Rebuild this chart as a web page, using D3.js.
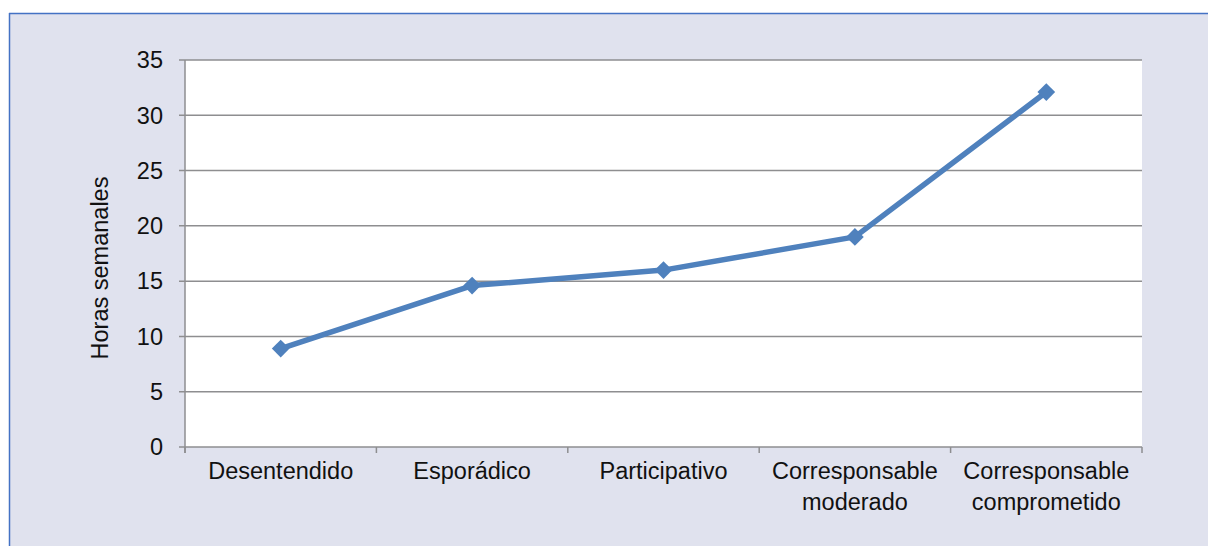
<!DOCTYPE html>
<html>
<head>
<meta charset="utf-8">
<script src="https://cdn.jsdelivr.net/npm/d3@7"></script>
<style>
  body { margin: 0; background: #fff; }
  svg { display: block; }
</style>
</head>
<body>
<svg id="chart"></svg>
<script>
const width = 1208;
const height = 546;
const margin = { top: 60, right: 66, bottom: 99, left: 185 };

// data
const categories = ["Desentendido", "Esporádico", "Participativo", "Corresponsable moderado", "Corresponsable comprometido"];
const categoryLines = [["Desentendido"], ["Esporádico"], ["Participativo"], ["Corresponsable", "moderado"], ["Corresponsable", "comprometido"]];
const hours = [8.9, 14.6, 16.0, 19.0, 32.1];
const yTicks = [0, 5, 10, 15, 20, 25, 30, 35];

const font = "'Liberation Sans', Arial, sans-serif";
const fontSize = "23.5px";

const svg = d3.select("#chart")
  .attr("width", width)
  .attr("height", height);

// frame background
svg.append("rect")
  .attr("x", 9).attr("y", 13)
  .attr("width", width - 9).attr("height", height - 13)
  .attr("fill", "#e0e2ee");
svg.append("line")
  .attr("x1", 9).attr("x2", width).attr("y1", 13.5).attr("y2", 13.5)
  .attr("stroke", "#4472c4").attr("stroke-width", 1.5);
svg.append("line")
  .attr("x1", 9.5).attr("x2", 9.5).attr("y1", 13).attr("y2", height)
  .attr("stroke", "#4472c4").attr("stroke-width", 1.5);

const x = d3.scaleBand()
  .domain(categories)
  .range([margin.left, width - margin.right]);

const y = d3.scaleLinear()
  .domain([0, 35])
  .range([height - margin.bottom, margin.top]);

// plot area
svg.append("rect")
  .attr("x", margin.left).attr("y", margin.top)
  .attr("width", width - margin.left - margin.right)
  .attr("height", height - margin.top - margin.bottom)
  .attr("fill", "#fff");

// gridlines
svg.append("g")
  .selectAll("line")
  .data(yTicks)
  .join("line")
  .attr("x1", margin.left - 6)
  .attr("x2", width - margin.right)
  .attr("y1", d => y(d))
  .attr("y2", d => y(d))
  .attr("stroke", "#8e8e90")
  .attr("stroke-width", 1.5);

// y axis line
svg.append("line")
  .attr("x1", margin.left).attr("x2", margin.left)
  .attr("y1", margin.top).attr("y2", y(0) + 6)
  .attr("stroke", "#8e8e90").attr("stroke-width", 1.5);

// x axis ticks at category boundaries
const bounds = categories.map(c => x(c)).concat([x.range()[1]]);
svg.append("g")
  .selectAll("line")
  .data(bounds)
  .join("line")
  .attr("x1", d => d).attr("x2", d => d)
  .attr("y1", y(0)).attr("y2", y(0) + 6)
  .attr("stroke", "#8e8e90").attr("stroke-width", 1.5);

// y tick labels
svg.append("g")
  .selectAll("text")
  .data(yTicks)
  .join("text")
  .attr("x", margin.left - 22)
  .attr("y", d => y(d))
  .attr("dy", "0.35em")
  .attr("text-anchor", "end")
  .style("font-family", font)
  .style("font-size", fontSize)
  .attr("fill", "#111")
  .text(d => d);

// category labels
const catLabels = svg.append("g")
  .selectAll("text")
  .data(categories)
  .join("text")
  .attr("text-anchor", "middle")
  .attr("transform", d => `translate(${x(d) + x.bandwidth() / 2},${y(0) + 32})`)
  .style("font-family", font)
  .style("font-size", fontSize)
  .attr("fill", "#111");

catLabels.each(function(d, i) {
  d3.select(this).selectAll("tspan")
    .data(categoryLines[i])
    .join("tspan")
    .attr("x", 0)
    .attr("dy", (t, j) => j === 0 ? 0 : "1.32em")
    .text(t => t);
});

// y axis title
svg.append("text")
  .attr("transform", `translate(108,268) rotate(-90)`)
  .attr("text-anchor", "middle")
  .style("font-family", font)
  .style("font-size", fontSize)
  .attr("fill", "#111")
  .text("Horas semanales");

// line
const line = d3.line()
  .x((d, i) => x(categories[i]) + x.bandwidth() / 2)
  .y(d => y(d));

svg.append("path")
  .datum(hours)
  .attr("fill", "none")
  .attr("stroke", "#4f81bd")
  .attr("stroke-width", 5.5)
  .attr("stroke-linejoin", "round")
  .attr("d", line);

// diamond markers
svg.append("g")
  .selectAll("path")
  .data(hours)
  .join("path")
  .attr("d", d3.symbol(d3.symbolDiamond2, 200))
  .attr("transform", (d, i) => `translate(${x(categories[i]) + x.bandwidth() / 2},${y(d)})`)
  .attr("fill", "#4f81bd");
</script>
</body>
</html>
